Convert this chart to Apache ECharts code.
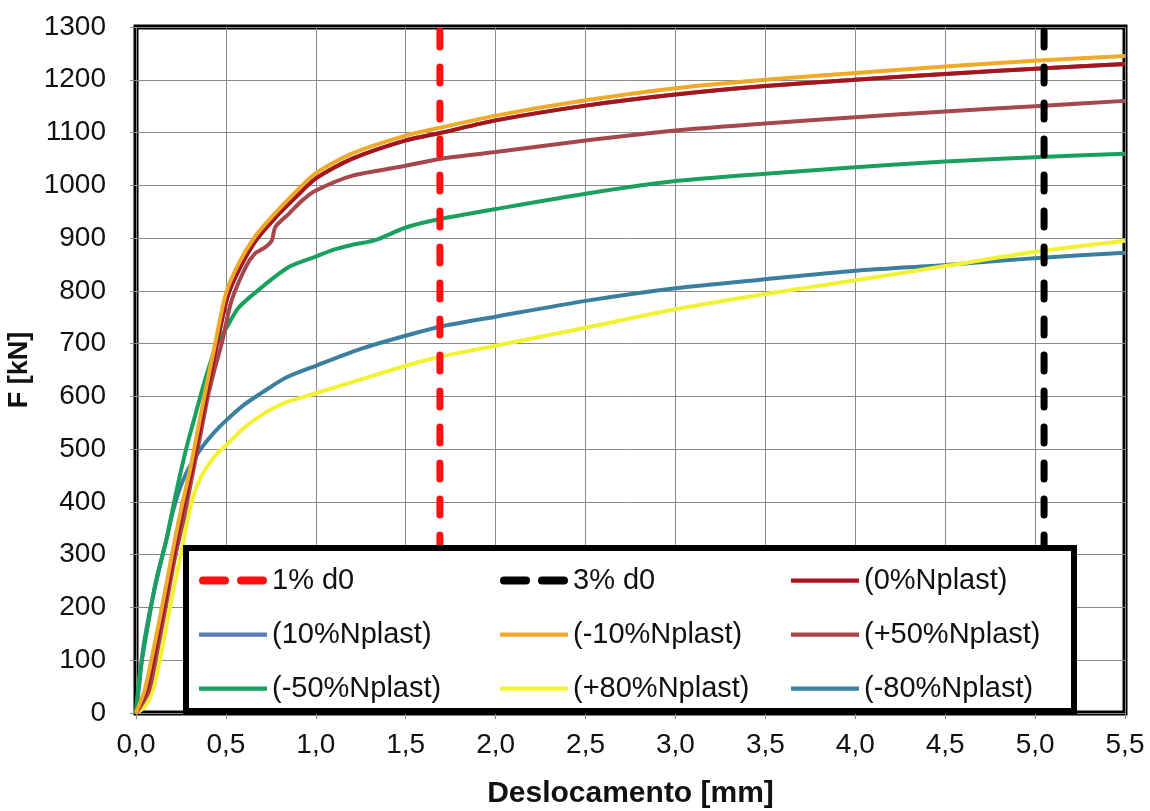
<!DOCTYPE html>
<html>
<head>
<meta charset="utf-8">
<script src="https://cdn.jsdelivr.net/npm/echarts@6/dist/echarts.min.js"></script>
<style>
html,body{margin:0;padding:0;background:#fff;}
#chart{width:1150px;height:811px;}
</style>
</head>
<body>
<div id="chart"></div>
<script>
// ---- data ----
const xTicks = [0, 0.5, 1, 1.5, 2, 2.5, 3, 3.5, 4, 4.5, 5, 5.5];
const yTicks = [0, 100, 200, 300, 400, 500, 600, 700, 800, 900, 1000, 1100, 1200, 1300];
const d0_1pct = 1.69;
const d0_3pct = 5.05;

const s0 = [[0,0],[0.06,45],[0.11,125],[0.16,210],[0.21,300],[0.26,385],[0.31,460],[0.35,530],[0.39,600],[0.45,700],[0.51,790],[0.58,845],[0.67,897],[0.77,937],[0.89,978],[1.0,1013],[1.2,1050],[1.5,1085],[1.69,1099],[2.0,1123],[2.5,1151],[3.0,1172],[3.5,1188],[4.0,1200],[4.5,1211],[5.0,1221],[5.5,1230]];
const s10 = [[0,0],[0.06,45],[0.11,125],[0.16,210],[0.21,300],[0.26,385],[0.31,460],[0.35,530],[0.39,600],[0.45,700],[0.51,790],[0.58,845],[0.67,897],[0.77,937],[0.89,978],[1.0,1013],[1.2,1050],[1.5,1085],[1.69,1099],[2.0,1123],[2.5,1151],[3.0,1172],[3.5,1188],[4.0,1200],[4.5,1211],[5.0,1221],[5.5,1230]];
const sM10 = [[0,0],[0.05,45],[0.1,125],[0.15,210],[0.2,300],[0.25,385],[0.3,460],[0.34,530],[0.38,600],[0.44,700],[0.5,795],[0.57,851],[0.66,902],[0.76,942],[0.88,985],[1.0,1023],[1.2,1060],[1.5,1094],[1.69,1109],[2.0,1132],[2.5,1161],[3.0,1184],[3.5,1200],[4.0,1213],[4.5,1225],[5.0,1236],[5.5,1245]];
const s50 = [[0,0],[0.07,40],[0.12,120],[0.17,210],[0.22,300],[0.27,375],[0.31,445],[0.36,530],[0.40,600],[0.44,655],[0.48,705],[0.53,780],[0.61,845],[0.66,870],[0.72,883],[0.755,895],[0.775,921],[0.85,946],[0.92,970],[1.0,990],[1.2,1018],[1.5,1037],[1.69,1050],[2.0,1063],[2.5,1085],[3.0,1104],[3.5,1117],[4.0,1129],[4.5,1140],[5.0,1150],[5.5,1160]];
const sM50 = [[0,0],[0.02,72],[0.06,154],[0.11,249],[0.17,330],[0.22,413],[0.28,502],[0.33,565],[0.37,615],[0.41,660],[0.45,700],[0.5,728],[0.57,768],[0.7,807],[0.85,845],[1.0,865],[1.1,878],[1.2,887],[1.33,896],[1.5,920],[1.69,936],[2.0,955],[2.5,984],[3.0,1008],[3.5,1022],[4.0,1034],[4.5,1045],[5.0,1053],[5.5,1060]];
const s80 = [[0,0],[0.05,12],[0.1,50],[0.15,130],[0.2,220],[0.26,318],[0.29,372],[0.32,412],[0.36,446],[0.41,474],[0.45,491],[0.5,507],[0.6,540],[0.7,565],[0.83,588],[1.0,606],[1.25,632],[1.5,658],[1.69,675],[2.0,696],[2.5,730],[3.0,765],[3.5,794],[4.0,820],[4.5,847],[5.0,874],[5.5,895]];
const sM80 = [[0,0],[0.02,60],[0.04,122],[0.08,198],[0.13,274],[0.17,330],[0.2,375],[0.24,422],[0.28,455],[0.33,485],[0.37,505],[0.43,530],[0.5,554],[0.6,584],[0.7,607],[0.83,635],[1.0,658],[1.25,690],[1.5,715],[1.69,732],[2.0,751],[2.5,781],[3.0,805],[3.5,822],[4.0,838],[4.5,849],[5.0,862],[5.5,872]];

const names = ['1% d0','3% d0','(0%Nplast)','(10%Nplast)','(-10%Nplast)','(+50%Nplast)','(-50%Nplast)','(+80%Nplast)','(-80%Nplast)'];
const colors = {
  '1% d0':'#FF1010','3% d0':'#000000','(0%Nplast)':'#A8141A','(10%Nplast)':'#5B7DB5',
  '(-10%Nplast)':'#EEAA28','(+50%Nplast)':'#A5474C','(-50%Nplast)':'#1AA05E',
  '(+80%Nplast)':'#F2F232','(-80%Nplast)':'#3A7FA0'
};

const chart = echarts.init(document.getElementById('chart'), null, {renderer:'canvas'});
const FONT = 'Liberation Sans, Arial, sans-serif';

function curve(name, data, z){
  return {name, type:'line', data, symbol:'none', smooth:0.25, z: z,
    lineStyle:{color:colors[name], width:4}, itemStyle:{color:colors[name]}};
}
function vline(name, x){
  return {name, type:'line', data:[[x,1300],[x,0]], symbol:'none', z:5,
    lineStyle:{color:colors[name], width:7, type:[16,20], dashOffset:-4, cap:'round'}, itemStyle:{color:colors[name]}};
}

const ICON_SOLID = 'path://M0,0 L64,0 L64,4 L0,4 Z';
const ICON_DASH = 'path://M4,0 L26,0 A4,4 0 0 1 26,8 L4,8 A4,4 0 0 1 4,0 Z M42,0 L64,0 A4,4 0 0 1 64,8 L42,8 A4,4 0 0 1 42,0 Z';
function legItem(name){
  return {name, icon: (name.indexOf('d0') >= 0 ? ICON_DASH : ICON_SOLID),
    itemStyle:{color:colors[name], borderWidth:0}};
}

const legendCommon = {
  orient:'vertical', itemWidth:68, itemHeight:8, itemGap:25, top:561, z:100,
  selectedMode:false,
  textStyle:{fontFamily:FONT, fontSize:29, color:'#111'}
};

const option = {
  backgroundColor:'#fff',
  animation:false,
  grid:{left:136, right:25, top:27, bottom:98, outerBoundsMode:'none', containLabel:false,
    show:true, borderColor:'#000', borderWidth:5, backgroundColor:'transparent'},
  xAxis:{
    type:'value', min:0, max:5.5, interval:0.5,
    name:'Deslocamento [mm]', nameLocation:'middle', nameGap:66,
    nameTextStyle:{fontFamily:FONT, fontSize:30, fontWeight:'bold', color:'#111'},
    axisLine:{show:false},
    axisTick:{show:true, length:6, lineStyle:{color:'#888'}},
    splitLine:{show:true, lineStyle:{color:'#8a8a8a', width:1}},
    axisLabel:{fontFamily:FONT, fontSize:28, color:'#111', margin:18,
      formatter:v => { const t = xTicks.find(k => Math.abs(k - v) < 1e-9); return t === undefined ? '' : t.toFixed(1).replace('.', ','); }}
  },
  yAxis:{
    type:'value', min:0, max:1300, interval:100,
    name:'F [kN]', nameLocation:'middle', nameGap:100, nameRotate:90,
    nameTextStyle:{fontFamily:FONT, fontSize:27, fontWeight:'bold', color:'#111'},
    axisLine:{show:false},
    axisTick:{show:true, length:6, lineStyle:{color:'#888'}},
    splitLine:{show:true, lineStyle:{color:'#8a8a8a', width:1}},
    axisLabel:{fontFamily:FONT, fontSize:28, color:'#111', margin:30,
      formatter:v => yTicks.includes(v) ? String(v) : ''}
  },
  legend:[
    Object.assign({}, legendCommon, {left:194, data:[names[0], names[3], names[6]].map(legItem)}),
    Object.assign({}, legendCommon, {left:495, data:[names[1], names[4], names[7]].map(legItem)}),
    Object.assign({}, legendCommon, {left:786, data:[names[2], names[5], names[8]].map(legItem)})
  ],
  graphic:{elements:[
    {type:'rect', z:50, shape:{x:186, y:548, width:888, height:163},
     style:{fill:'#fff', stroke:'#000', lineWidth:6}}
  ]},
  series:[
    curve('(10%Nplast)', s10, 2),
    curve('(-80%Nplast)', sM80, 2),
    curve('(+80%Nplast)', s80, 2),
    curve('(-50%Nplast)', sM50, 2),
    curve('(+50%Nplast)', s50, 2),
    curve('(0%Nplast)', s0, 3),
    curve('(-10%Nplast)', sM10, 3),
    vline('1% d0', d0_1pct),
    vline('3% d0', d0_3pct)
  ]
};
chart.setOption(option);
</script>
</body>
</html>
